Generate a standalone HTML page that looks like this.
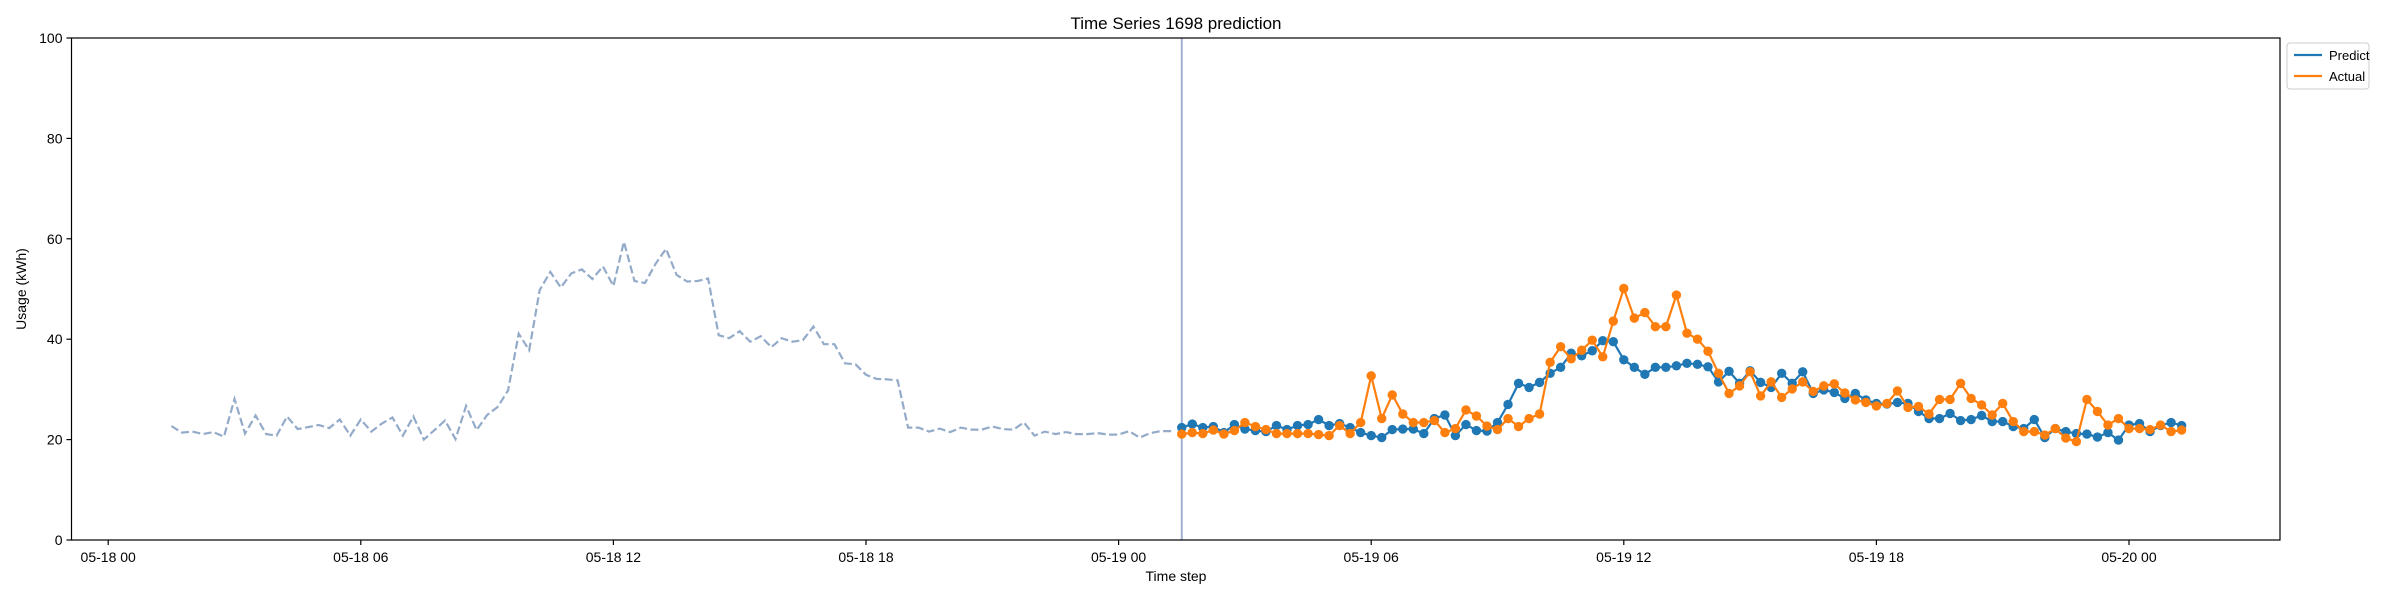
<!DOCTYPE html>
<html><head><meta charset="utf-8"><style>
html,body{margin:0;padding:0;background:#fff;}
svg{display:block;font-family:"Liberation Sans","DejaVu Sans",sans-serif;}
</style></head><body>
<svg id="chart" width="2400" height="600" viewBox="0 0 2400 600" xmlns="http://www.w3.org/2000/svg">
<rect width="2400" height="600" fill="#fff"/>
<text x="1176" y="29" text-anchor="middle" font-size="17" fill="#000">Time Series 1698 prediction</text>
<g id="axes"></g>
<g id="series"></g>
<rect x="71.5" y="38" width="2208.5" height="502" fill="none" stroke="#000" stroke-width="1.2"/>
<text x="1176" y="581" text-anchor="middle" font-size="14" fill="#000">Time step</text>
<text transform="translate(26,289) rotate(-90)" text-anchor="middle" font-size="14" fill="#000">Usage (kWh)</text>
<g>
<rect x="2287" y="43" width="82" height="46" rx="3" fill="#fff" stroke="#ccc" stroke-width="1"/>
<line x1="2294" y1="55" x2="2322" y2="55" stroke="#1f77b4" stroke-width="2.2"/>
<text x="2329" y="60" font-size="13">Predict</text>
<line x1="2294" y1="76" x2="2322" y2="76" stroke="#ff7f0e" stroke-width="2.2"/>
<text x="2329" y="81" font-size="13">Actual</text>
</g>
</svg>
<script>
const yTicks = [0, 20, 40, 60, 80, 100];
const xTickHours = [0, 6, 12, 18, 24, 30, 36, 42, 48];
const xTickLabels = ["05-18 00","05-18 06","05-18 12","05-18 18","05-19 00","05-19 06","05-19 12","05-19 18","05-20 00"];
const historyStartHour = 1.5;
const predictStartHour = 25.5;
const stepHours = 0.25;
const history = [22.7,21.4,21.6,21.1,21.5,20.6,28.1,21.2,24.8,21.1,20.8,24.6,22.1,22.5,22.9,22.3,24.0,20.8,24.0,21.6,23.2,24.4,20.8,24.6,20.0,21.9,23.8,20.1,26.7,21.9,24.9,26.5,29.8,41.1,37.8,49.8,53.4,50.3,53.1,53.9,52.0,54.5,50.6,59.4,51.6,51.2,55.0,58.0,
52.8,51.5,51.6,52.1,40.8,40.2,41.6,39.5,40.6,38.4,40.2,39.5,39.8,42.5,39.0,39.0,35.2,35.0,32.9,32.1,32.0,31.8,22.4,22.4,21.6,22.2,21.5,22.4,22.0,22.0,22.6,22.1,22.0,23.4,20.8,21.6,21.1,21.5,21.1,21.1,21.3,21.0,21.0,21.7,20.4,21.3,21.7,21.7];
const predict = [22.4,23.1,22.4,22.6,21.4,23.0,22.1,21.8,21.6,22.8,22.0,22.8,23.0,24.0,22.8,23.2,22.4,21.4,20.8,20.4,22.0,22.1,22.1,21.2,24.2,24.9,20.8,23.0,21.8,21.7,23.4,27.0,31.2,30.4,31.4,33.2,34.4,37.2,36.7,37.7,39.7,39.5,35.9,34.4,33.0,34.4,34.4,34.7,35.2,35.0,34.5,31.5,
33.6,31.2,33.7,31.4,30.4,33.2,31.2,33.5,29.2,29.9,29.4,28.2,29.2,27.9,27.2,27.1,27.4,27.2,25.6,24.2,24.2,25.2,23.8,24.0,24.8,23.6,23.6,22.6,22.2,24.0,20.4,22.2,21.6,21.2,21.1,20.5,21.4,19.9,22.9,23.2,21.6,22.8,23.4,22.8];
const actual = [21.1,21.4,21.2,21.9,21.1,21.8,23.4,22.6,22.0,21.2,21.2,21.2,21.2,21.0,20.8,22.8,21.2,23.4,32.7,24.2,28.9,25.1,23.4,23.4,23.8,21.4,22.2,25.9,24.7,22.7,22.0,24.2,22.6,24.2,25.1,35.4,38.5,36.1,37.8,39.8,36.5,43.6,50.1,44.2,45.3,42.5,42.5,48.8,41.2,40.0,37.6,33.2,
29.2,30.7,33.5,28.7,31.5,28.4,30.1,31.5,29.6,30.7,31.1,29.3,27.9,27.4,26.7,27.2,29.7,26.4,26.6,25.1,28.0,28.0,31.2,28.2,26.9,24.9,27.2,23.6,21.6,21.6,20.9,22.2,20.3,19.6,28.0,25.6,22.9,24.2,22.2,22.2,22.0,22.9,21.6,21.9];

const NS = "http://www.w3.org/2000/svg";
const L = 71.5, R = 2280, T = 38, B = 540;
const xHour = h => 108.2 + h * 42.1;
const yVal = v => B - (v / 100) * (B - T);
function mk(tag, attrs, parent) {
  const e = document.createElementNS(NS, tag);
  for (const k in attrs) e.setAttribute(k, attrs[k]);
  parent.appendChild(e);
  return e;
}
const axes = document.getElementById('axes');
const series = document.getElementById('series');

yTicks.forEach(v => {
  const y = yVal(v);
  const t = mk('line', {x1: L - 5, x2: L, y1: y, y2: y, stroke: '#000', 'stroke-width': 1.2}, axes);
  
  
  const lb = mk('text', {x: L - 9, y: y + 5, 'text-anchor': 'end', 'font-size': 14}, axes);
  lb.textContent = v;
  
  
});
xTickHours.forEach((h, i) => {
  const x = xHour(h);
  const t = mk('line', {x1: x, x2: x, y1: B, y2: B + 5, stroke: '#000', 'stroke-width': 1.2}, axes);
  
  
  const lb = mk('text', {x: x, y: B + 22, 'text-anchor': 'middle', 'font-size': 14}, axes);
  lb.textContent = xTickLabels[i];
  
  
});

const vx = xHour(predictStartHour);
const vl = mk('line', {x1: vx, x2: vx, y1: T, y2: B, stroke: '#a3b0d4', 'stroke-width': 2}, series);



function pts(arr, start) {
  return arr.map((v, i) => xHour(start + i * stepHours).toFixed(1) + ',' + yVal(v).toFixed(1)).join(' ');
}
const hl = mk('polyline', {points: pts(history, historyStartHour), fill: 'none', stroke: '#93abc9', 'stroke-width': 2.2, 'stroke-dasharray': '8,3.5'}, series);



function drawSeries(arr, color, name) {
  const g = mk('g', {}, series);
  
  
  const pl = mk('polyline', {points: pts(arr, predictStartHour), fill: 'none', stroke: color, 'stroke-width': 2.2}, g);
  
  
  arr.forEach((v, i) => {
    const c = mk('circle', {cx: xHour(predictStartHour + i * stepHours), cy: yVal(v), r: 4.7, fill: color}, g);
    
    
  });
}
drawSeries(predict, '#1f77b4', 'predict');
drawSeries(actual, '#ff7f0e', 'actual');
</script>
</body></html>
